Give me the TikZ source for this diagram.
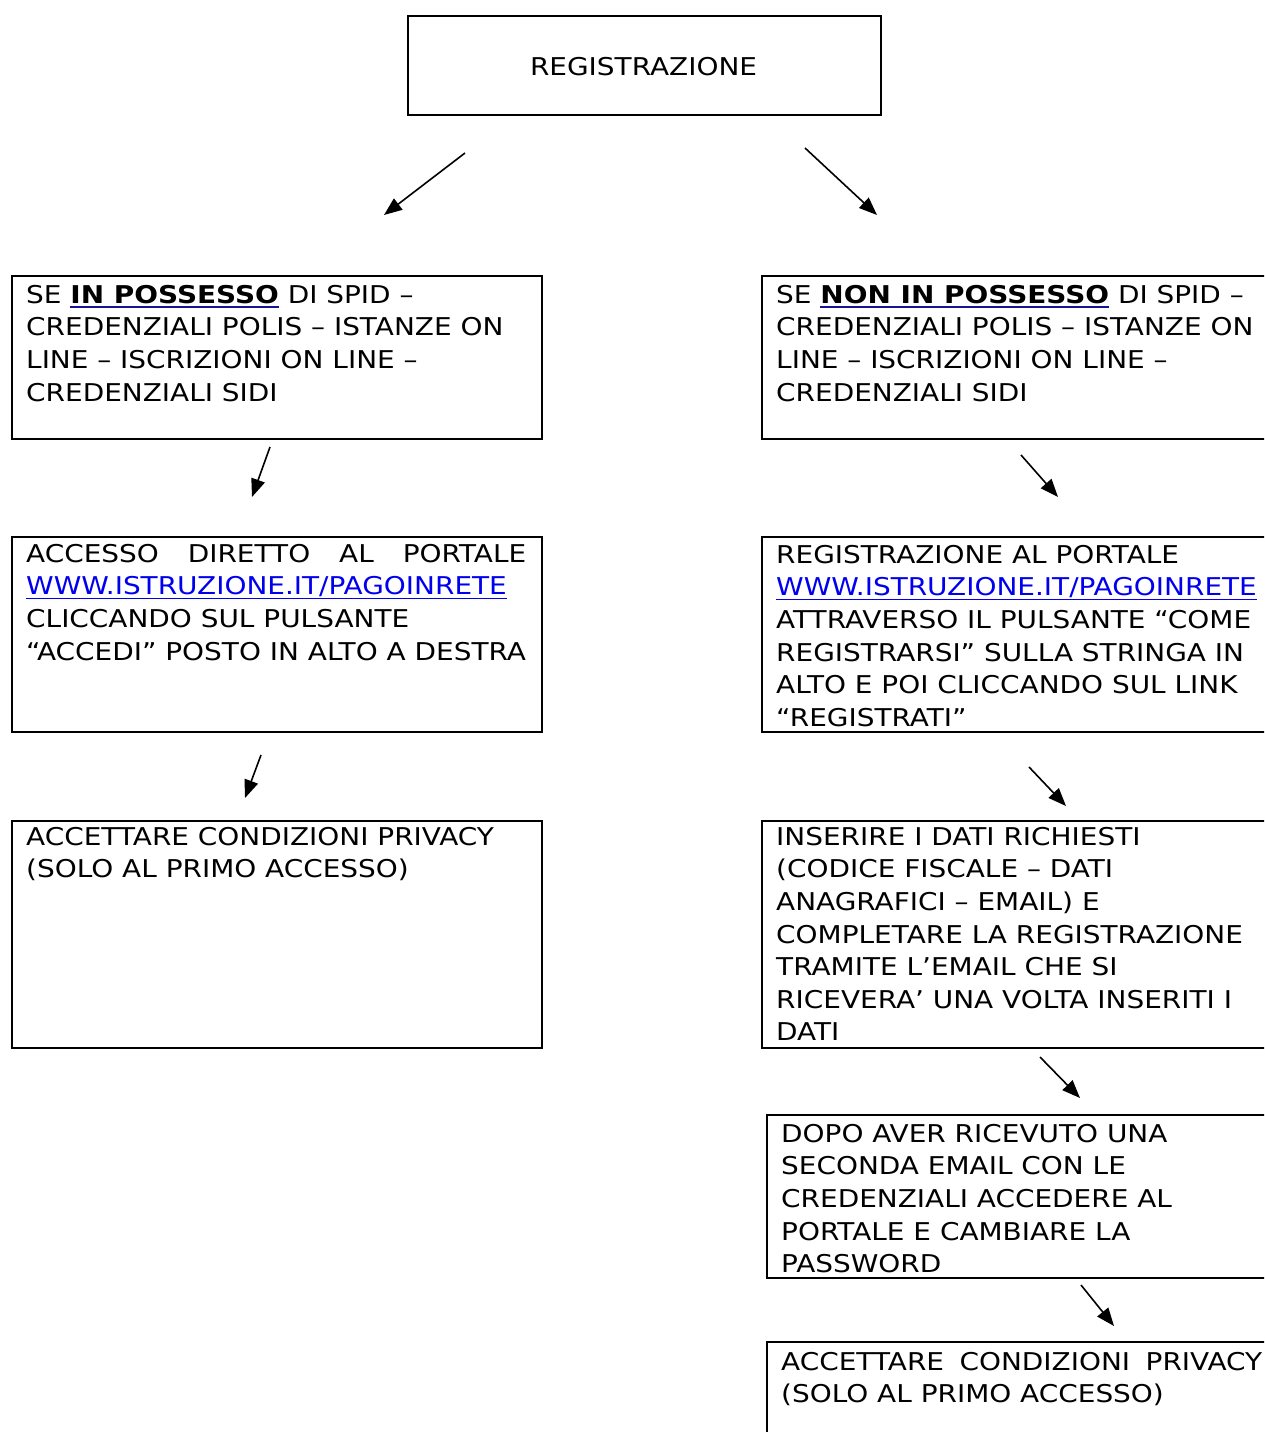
\documentclass[tikz,border=0pt]{standalone}
\usepackage{fontspec}
\setmainfont{DejaVu Sans}[FakeStretch=1.14]
\usetikzlibrary{arrows.meta}
\definecolor{linkblue}{RGB}{0,0,238}
\definecolor{ulblue}{RGB}{20,20,150}
\newcommand\ulbold[1]{\setbox0\hbox{{\bfseries #1}}\rlap{{\color{ulblue}\rule[-4.5pt]{\wd0}{2pt}}}\box0\relax}
\newcommand\linkit[1]{\setbox0\hbox{{\color{linkblue}#1}}\rlap{{\color{linkblue}\rule[-4.5pt]{\wd0}{1.6pt}}}\box0\relax}
\newcommand\fstrut{\rule{0pt}{20pt}}
\tikzset{
  box/.style={draw=black, line width=2pt, anchor=north west, inner sep=0pt},
  txt/.style={anchor=north west, inner sep=0pt, align=left, font=\fontsize{24.5pt}{32.6pt}\selectfont},
  arr/.style={line width=1.6pt, -{Triangle[length=18pt,width=14pt]}}
}
\begin{document}
\begin{tikzpicture}[x=1pt,y=-1pt]
\useasboundingbox (0,0) rectangle (1264,1432);
\clip (0,0) rectangle (1264,1432);
\fill[white] (0,0) rectangle (1264,1432);
% boxes
\node[box, minimum width=473pt, minimum height=99pt] (top) at (407,15) {};
\node[box, minimum width=530pt, minimum height=163pt] (l1) at (11,275) {};
\node[box, minimum width=560pt, minimum height=163pt] (r1) at (761,275) {};
\node[box, minimum width=530pt, minimum height=195pt] (l2) at (11,536) {};
\node[box, minimum width=560pt, minimum height=195pt] (r2) at (761,536) {};
\node[box, minimum width=530pt, minimum height=227pt] (l3) at (11,820) {};
\node[box, minimum width=560pt, minimum height=227pt] (r3) at (761,820) {};
\node[box, minimum width=560pt, minimum height=163pt] (r4) at (766,1114) {};
\node[box, minimum width=560pt, minimum height=200pt] (r5) at (766,1341) {};
% texts
\node[txt, anchor=base] (toptext) at (643.5,75) {REGISTRAZIONE};
\node[txt] (l1text) at (26,283) {\fstrut SE \ulbold{IN POSSESSO} DI SPID –\\CREDENZIALI POLIS – ISTANZE ON\\LINE – ISCRIZIONI ON LINE –\\CREDENZIALI SIDI};
\node[txt] (r1text) at (776,283) {\fstrut SE \ulbold{NON IN POSSESSO} DI SPID –\\CREDENZIALI POLIS – ISTANZE ON\\LINE – ISCRIZIONI ON LINE –\\CREDENZIALI SIDI};
\node[txt] (l2text) at (26,542) {\fstrut\makebox[500pt][s]{ACCESSO DIRETTO AL PORTALE}\\\linkit{WWW.ISTRUZIONE.IT/PAGOINRETE}\\CLICCANDO SUL PULSANTE\\“ACCEDI” POSTO IN ALTO A DESTRA};
\node[txt] (r2text) at (776,543) {\fstrut REGISTRAZIONE AL PORTALE\\\linkit{WWW.ISTRUZIONE.IT/PAGOINRETE}\\ATTRAVERSO IL PULSANTE “COME\\REGISTRARSI” SULLA STRINGA IN\\ALTO E POI CLICCANDO SUL LINK\\“REGISTRATI”};
\node[txt] (l3text) at (26,825) {\fstrut ACCETTARE CONDIZIONI PRIVACY\\(SOLO AL PRIMO ACCESSO)};
\node[txt] (r3text) at (776,825) {\fstrut INSERIRE I DATI RICHIESTI\\(CODICE FISCALE – DATI\\ANAGRAFICI – EMAIL) E\\COMPLETARE LA REGISTRAZIONE\\TRAMITE L’EMAIL CHE SI\\RICEVERA’ UNA VOLTA INSERITI I\\DATI};
\node[txt] (r4text) at (781,1122) {\fstrut DOPO AVER RICEVUTO UNA\\SECONDA EMAIL CON LE\\CREDENZIALI ACCEDERE AL\\PORTALE E CAMBIARE LA\\PASSWORD};
\node[txt] (r5text) at (781,1350) {\fstrut\makebox[481pt][s]{ACCETTARE CONDIZIONI PRIVACY}\\(SOLO AL PRIMO ACCESSO)};
% arrow end points
\coordinate (a1s) at (465,153); \coordinate (a1e) at (384,215);
\coordinate (a2s) at (805,148); \coordinate (a2e) at (877,215);
\coordinate (a3s) at (270,447); \coordinate (a3e) at (252,497);
\coordinate (a4s) at (261,755); \coordinate (a4e) at (245,798);
\coordinate (a5s) at (1021,455); \coordinate (a5e) at (1058,497);
\coordinate (a6s) at (1029,767); \coordinate (a6e) at (1066,806);
\coordinate (a7s) at (1040,1057); \coordinate (a7e) at (1080,1098);
\coordinate (a8s) at (1081,1285); \coordinate (a8e) at (1114,1326);
\draw[arr] (a1s) -- (a1e);
\draw[arr] (a2s) -- (a2e);
\draw[arr] (a3s) -- (a3e);
\draw[arr] (a4s) -- (a4e);
\draw[arr] (a5s) -- (a5e);
\draw[arr] (a6s) -- (a6e);
\draw[arr] (a7s) -- (a7e);
\draw[arr] (a8s) -- (a8e);
\end{tikzpicture}
\end{document}
